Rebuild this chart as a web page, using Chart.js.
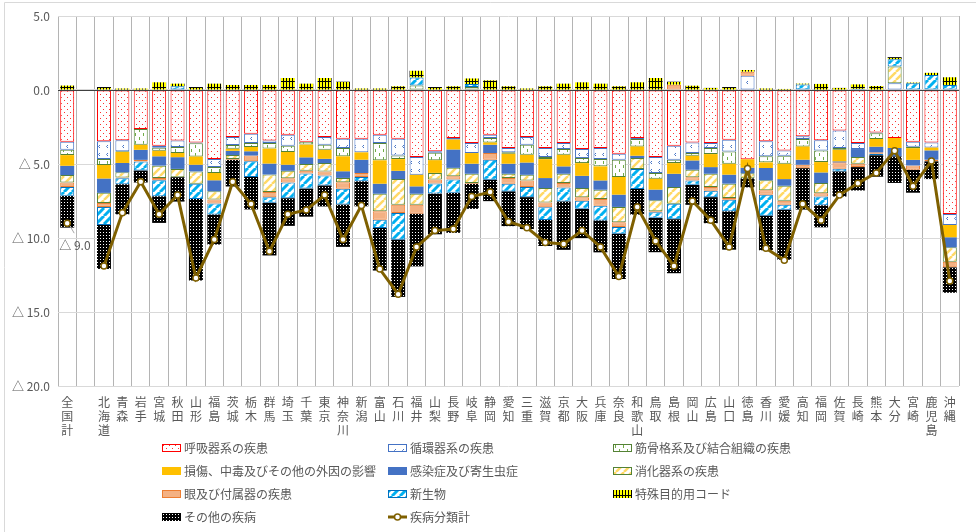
<!DOCTYPE html>
<html lang="ja">
<head>
<meta charset="utf-8">
<title>疾病分類別 増減率</title>
<script src="https://cdn.jsdelivr.net/npm/chart.js@4/dist/chart.umd.min.js"></script>
<style>
  html, body { margin: 0; padding: 0; background: #fff; }
  #wrap { width: 976px; height: 532px; position: relative; }
</style>
</head>
<body>
<div id="wrap"><canvas id="chart" width="976" height="532"></canvas></div>
<script>
// 都道府県（全国計の後に空欄1列）
const categories = ['全国計', '', '北海道', '青森', '岩手', '宮城', '秋田', '山形', '福島', '茨城',
  '栃木', '群馬', '埼玉', '千葉', '東京', '神奈川', '新潟', '富山', '石川', '福井',
  '山梨', '長野', '岐阜', '静岡', '愛知', '三重', '滋賀', '京都', '大阪', '兵庫',
  '奈良', '和歌山', '鳥取', '島根', '岡山', '広島', '山口', '徳島', '香川', '愛媛',
  '高知', '福岡', '佐賀', '長崎', '熊本', '大分', '宮崎', '鹿児島', '沖縄'];

const respiratory = [-3.5, null, -3.47, -3.4, -2.64, -3.76, -3.42, -3.54, -4.66, -3.18,
  -2.95, -3.42, -3.02, -3.49, -3.18, -3.29, -3.29, -3.02, -3.29, -4.53,
  -4.14, -3.24, -3.58, -3.02, -3.92, -3.18, -3.92, -3.58, -3.99, -3.92,
  -4.3, -3.24, -4.53, -3.76, -3.54, -3.58, -3.36, -4.68, -3.47, -4.08,
  -3.13, -3.4, -2.73, -3.58, -2.88, -3.24, -3.5, -3.54, -8.38];
const circulatory = [-0.54, null, -1.19, -0.74, null, -0.14, -0.43, -0.05, -0.54, -0.54,
  -0.63, -0.16, -0.74, null, -0.52, -0.63, -0.92, -0.56, -1.13, -1.19,
  -0.1, -0.1, -0.68, -0.23, -0.29, -0.52, -0.61, -0.41, -0.61, -0.74,
  -0.41, -0.07, -1.08, -0.95, -0.72, -0.34, -0.79, 0.97, -1.01, -0.36,
  -0.18, -0.68, -1.19, -0.41, -0.05, 0.45, -0.33, -0.34, -0.74];
const musculoskeletal = [-0.36, null, -0.4, -0.05, -1.06, -0.2, -0.4, -0.9, -0.4, -0.25,
  -0.27, -0.38, -0.43, -0.2, -0.34, -0.56, null, -1.17, -0.25, 0.3,
  -0.5, null, 0.2, -0.29, -0.09, -0.68, -0.14, -0.38, -0.34, -0.5,
  -1.17, -0.5, -0.38, -0.23, -0.18, -0.41, -0.83, null, -0.41, -0.54,
  -0.5, -0.79, -0.11, null, -0.38, null, -0.1, null, null];
const injury = [-0.72, null, -0.92, -0.74, -0.34, -0.38, -0.29, -0.56, -0.5, -0.14,
  -0.29, -1.01, -0.86, -0.86, -0.61, -1.01, -0.5, -1.58, -0.79, -0.79,
  -0.86, -0.68, -0.72, -0.16, -0.68, -0.52, -1.28, -0.79, -0.86, -0.95,
  -1.19, -0.63, -0.74, -0.72, -0.32, -0.88, -0.74, -0.57, -0.38, -1.04,
  -0.9, -0.7, -0.79, null, -0.52, -0.68, -0.79, -0.2, -0.83];
const infectious = [-0.63, null, -0.97, -0.63, -0.68, -0.63, -0.79, -0.45, -0.74, -0.29,
  -0.29, -0.74, -0.41, -0.45, -0.29, -0.45, -0.9, -0.68, -0.56, -0.5,
  null, -1.24, -0.68, -0.56, -0.68, -0.83, -0.68, -0.5, -0.83, -0.63,
  -0.83, -0.16, -0.72, -0.9, -0.63, -0.45, -0.61, -0.38, -0.83, -0.45,
  -0.34, -0.72, -0.07, -0.54, -0.38, -0.56, -0.38, -0.63, -0.68];
const digestive = [-0.5, null, -0.68, -0.36, null, -0.83, -0.56, -0.83, -0.56, -0.27,
  null, -1.19, -0.5, -0.45, -0.56, -0.29, null, -1.19, -1.73, -0.74,
  -0.45, -0.56, -0.63, null, -0.29, -0.38, -0.97, -0.63, -0.61, -0.63,
  -1.04, -0.74, -0.74, -1.13, -0.5, -0.9, -0.97, -0.34, -0.68, -1.01,
  null, -0.68, null, -0.45, null, 1.13, null, null, -0.97];
const eye = [-0.3, null, -0.27, -0.05, -0.11, -0.16, null, null, -0.27, -0.05,
  -0.38, -0.34, -0.29, -0.2, -0.27, -0.45, -0.27, -0.56, -0.56, -0.61,
  -0.27, -0.23, -0.05, -0.45, -0.38, -0.45, -0.32, -0.29, -0.25, -0.45,
  -0.32, null, -0.07, 0.36, -0.23, -0.25, -0.11, 0.27, -0.29, -0.27,
  -0.23, -0.23, -0.43, -0.23, -0.1, null, -0.29, -0.11, -0.38];
const neoplasm = [-0.6, null, -1.22, -0.4, -0.61, -1.08, 0.25, -1.04, -0.74, null,
  -1.06, -0.38, -1.06, -1.01, -0.68, -1.06, -0.29, -0.56, -1.8, 0.55,
  -0.68, -0.9, 0.2, -1.35, -0.52, -0.68, -0.86, -0.95, -0.54, -0.99,
  -0.45, -1.35, -0.38, -1.04, -0.29, -0.43, -0.79, null, -1.42, -0.34,
  0.38, -0.59, -0.18, 0.08, -0.1, 0.5, 0.45, 1.01, 0.34];
const specialCode = [0.3, null, 0.2, 0.1, 0.1, 0.52, 0.18, 0.2, 0.43, 0.34,
  0.34, 0.34, 0.81, 0.43, 0.81, 0.56, 0.1, 0.1, 0.25, 0.45,
  0.2, 0.25, 0.38, 0.65, 0.25, 0.1, 0.25, 0.43, 0.52, 0.43,
  0.25, 0.52, 0.81, 0.2, 0.29, 0.14, 0.2, 0.11, 0.1, 0.07,
  0.05, 0.41, 0.14, 0.3, 0.27, 0.14, 0.05, 0.15, 0.52];
const otherDiseases = [-2.15, null, -2.97, -2.03, -0.81, -1.8, -1.65, -5.5, -2.03, -1.8,
  -2.2, -3.56, -1.87, -1.9, -1.42, -2.86, -1.69, -2.88, -3.87, -3.56,
  -2.75, -2.7, -1.69, -1.45, -2.35, -2.16, -1.76, -3.27, -1.97, -2.16,
  -3.06, -1.73, -2.32, -3.65, -1.35, -1.76, -2.59, -0.61, -2.34, -3.38,
  -2.8, -1.49, -1.7, -1.58, -1.45, -1.8, -1.55, -1.2, -1.72];
const totalAll = [-9.0, null, -11.9, -8.3, -6.2, -8.4, -7.1, -12.7, -10.1, -6.2,
  -7.7, -10.9, -8.4, -8.1, -7.1, -10.1, -7.8, -12.1, -13.8, -10.6,
  -9.5, -9.4, -7.2, -6.9, -8.9, -9.3, -10.3, -10.4, -9.5, -10.6,
  -12.6, -7.9, -10.2, -11.9, -7.5, -8.8, -10.6, -5.3, -10.7, -11.5,
  -7.7, -8.8, -7.1, -6.3, -5.6, -4.1, -6.5, -4.8, -12.9];

const FONT = '"Noto Sans CJK JP", "Noto Sans", sans-serif';
const TEXT = '#595959';

const canvas = document.getElementById('chart');
const mainCtx = canvas.getContext('2d');

function makePattern(w, h, paint) {
  const c = document.createElement('canvas');
  c.width = w; c.height = h;
  const g = c.getContext('2d');
  paint(g, w, h);
  return mainCtx.createPattern(c, 'repeat');
}

// hatch fills
const redDots = makePattern(6, 6, (g) => {
  g.fillStyle = '#fff'; g.fillRect(0, 0, 6, 6);
  g.fillStyle = '#FF3030'; g.fillRect(1, 1, 1, 1); g.fillRect(4, 4, 1, 1);
});
const blueMarks = makePattern(8, 8, (g) => {
  g.fillStyle = '#fff'; g.fillRect(0, 0, 8, 8);
  g.strokeStyle = '#4472C4'; g.lineWidth = 1;
  g.beginPath(); g.moveTo(4, 1); g.lineTo(2.5, 2.5); g.lineTo(4, 4); g.stroke();
});
const greenDashes = makePattern(8, 8, (g) => {
  g.fillStyle = '#fff'; g.fillRect(0, 0, 8, 8);
  g.fillStyle = '#70AD47'; g.fillRect(3, 1, 1, 3); g.fillRect(7, 5, 1, 3);
});
const yellowStripes = makePattern(8, 8, (g) => {
  g.fillStyle = '#fff'; g.fillRect(0, 0, 8, 8);
  g.strokeStyle = '#FFD966'; g.lineWidth = 2.5;
  for (const k of [-8, 0, 8]) { g.beginPath(); g.moveTo(k, 8); g.lineTo(k + 8, 0); g.stroke(); }
});
const cyanStripes = makePattern(8, 8, (g) => {
  g.fillStyle = '#fff'; g.fillRect(0, 0, 8, 8);
  g.strokeStyle = '#00B0F0'; g.lineWidth = 3;
  for (const k of [-8, 0, 8]) { g.beginPath(); g.moveTo(k, 8); g.lineTo(k + 8, 0); g.stroke(); }
});
const yellowGrid = makePattern(6, 6, (g) => {
  g.fillStyle = '#FFFF00'; g.fillRect(0, 0, 6, 6);
  g.fillStyle = '#000'; g.fillRect(1, 0, 1, 6); g.fillRect(4, 0, 1, 6); g.fillRect(0, 3, 6, 1);
});
const darkDots = makePattern(3, 3, (g) => {
  g.fillStyle = '#000'; g.fillRect(0, 0, 3, 3);
  g.fillStyle = '#fff'; g.fillRect(1, 1, 1, 1);
});

function barSet(label, data, fill, border, width) {
  return {
    type: 'bar', label, data,
    backgroundColor: fill,
    borderColor: border || 'rgba(0,0,0,0)',
    borderWidth: width || 0,
    borderSkipped: false,
    stack: 'parts',
    barPercentage: 0.76,
    categoryPercentage: 1.0
  };
}

const datasets = [
  barSet('呼吸器系の疾患', respiratory, redDots, '#FF0000', 1),
  barSet('循環器系の疾患', circulatory, blueMarks, '#4472C4', 1),
  barSet('筋骨格系及び結合組織の疾患', musculoskeletal, greenDashes, '#548235', 1),
  barSet('損傷、中毒及びその他の外因の影響', injury, '#FFC000'),
  barSet('感染症及び寄生虫症', infectious, '#4472C4'),
  barSet('消化器系の疾患', digestive, yellowStripes, '#548235', 1),
  barSet('眼及び付属器の疾患', eye, '#F4B183', '#ED7D31', 1),
  barSet('新生物', neoplasm, cyanStripes, '#0070C0', 1),
  barSet('特殊目的用コード', specialCode, yellowGrid),
  barSet('その他の疾病', otherDiseases, darkDots),
  {
    type: 'line', label: '疾病分類計', data: totalAll,
    stack: 'total', order: -1,
    borderColor: '#7F6000', borderWidth: 3,
    pointStyle: 'circle', pointRadius: 3, pointBorderWidth: 1.5,
    pointBackgroundColor: '#fff', pointBorderColor: '#7F6000',
    spanGaps: false, tension: 0
  }
];

const fmt = (v) => v < 0 ? '△ ' + (-v).toFixed(1) : v.toFixed(1);

// frame, zero line, value label and legend
const decorations = {
  id: 'decorations',
  beforeDraw(chart) {
    const ctx = chart.ctx;
    ctx.save();
    ctx.strokeStyle = '#D9D9D9';
    ctx.lineWidth = 1;
    ctx.beginPath();
    ctx.moveTo(4.5, 532); ctx.lineTo(4.5, 2.5); ctx.lineTo(976, 2.5);
    ctx.stroke();
    ctx.restore();
  },
  afterDatasetsDraw(chart) {
    const ctx = chart.ctx;
    const { left, right } = chart.chartArea;
    const y0 = Math.round(chart.scales.y.getPixelForValue(0)) + 0.5;
    ctx.save();
    ctx.strokeStyle = '#404040';
    ctx.lineWidth = 1;
    ctx.beginPath(); ctx.moveTo(left, y0); ctx.lineTo(right, y0); ctx.stroke();

    // 全国計 のデータラベル
    const pt = chart.getDatasetMeta(10).data[0];
    ctx.strokeStyle = '#A6A6A6';
    ctx.beginPath(); ctx.moveTo(pt.x + 3, pt.y + 3); ctx.lineTo(pt.x + 7, pt.y + 10); ctx.stroke();
    ctx.fillStyle = TEXT;
    ctx.font = '12px ' + FONT;
    ctx.textBaseline = 'middle';
    ctx.textAlign = 'left';
    ctx.fillText(fmt(totalAll[0]), pt.x - 8, pt.y + 22);
    ctx.restore();
  },
  afterDraw(chart) {
    const ctx = chart.ctx;
    const cols = [162, 388, 613];
    const rows = [448, 471, 494, 517];
    ctx.save();
    ctx.font = '12px ' + FONT;
    ctx.textBaseline = 'middle';
    ctx.textAlign = 'left';
    chart.data.datasets.forEach((ds, i) => {
      const x = cols[i % 3];
      const y = rows[Math.floor(i / 3)];
      if (ds.type === 'line') {
        ctx.strokeStyle = ds.borderColor; ctx.lineWidth = 3;
        ctx.beginPath(); ctx.moveTo(x, y); ctx.lineTo(x + 19, y); ctx.stroke();
        ctx.fillStyle = '#fff'; ctx.lineWidth = 1.5;
        ctx.beginPath(); ctx.arc(x + 9.5, y, 3, 0, Math.PI * 2); ctx.fill(); ctx.stroke();
      } else {
        ctx.fillStyle = ds.backgroundColor;
        ctx.fillRect(x, y - 4, 19, 8);
        if (ds.borderWidth) {
          ctx.strokeStyle = ds.borderColor; ctx.lineWidth = 1;
          ctx.strokeRect(x + 0.5, y - 3.5, 18, 7);
        }
      }
      ctx.fillStyle = TEXT;
      ctx.fillText(ds.label, x + 22, y);
    });
    ctx.restore();
  }
};

new Chart(canvas, {
  data: { labels: categories, datasets },
  plugins: [decorations],
  options: {
    responsive: false,
    animation: false,
    layout: { padding: { left: 6, right: 17, top: 16, bottom: 92 } },
    plugins: { legend: { display: false }, tooltip: { enabled: false } },
    scales: {
      x: {
        stacked: true,
        offset: true,
        grid: { offset: true, color: '#B4B4B4', drawTicks: false },
        border: { display: false },
        ticks: {
          autoSkip: false, maxRotation: 0, minRotation: 0, padding: 10,
          color: TEXT, font: { family: FONT, size: 12, lineHeight: 1.15 },
          callback: (v, i) => categories[i].split('')
        },
        afterFit: (s) => { s.height = 54; }
      },
      y: {
        stacked: true,
        min: -20, max: 5,
        ticks: {
          stepSize: 5, padding: 8, color: TEXT,
          font: { family: FONT, size: 12 },
          callback: (v) => fmt(v)
        },
        grid: { color: '#D9D9D9', drawTicks: false },
        border: { display: false },
        afterFit: (s) => { s.width = 52; }
      }
    }
  }
});
</script>
</body>
</html>
